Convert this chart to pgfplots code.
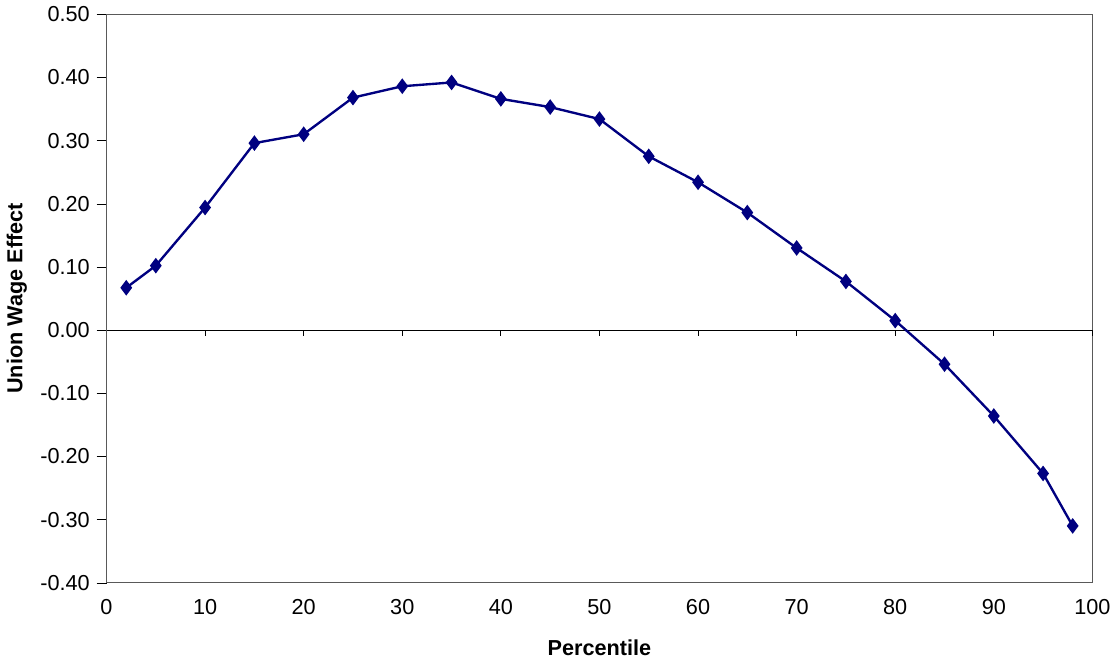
\documentclass[border=0pt]{standalone}
\usepackage{fontspec}
\setmainfont{Liberation Sans}
\usepackage{pgfplots}
\pgfplotsset{compat=1.18}
\definecolor{navy}{RGB}{0,0,128}
\begin{document}
\begin{tikzpicture}
\begin{axis}[
  scale only axis, width=17.6cm, height=10.15cm,
  xmin=0, xmax=100, ymin=-0.4, ymax=0.5,
  xtick={0,10,...,100}, ytick={-0.4,-0.3,...,0.5},
  yticklabel style={/pgf/number format/.cd,fixed,fixed zerofill,precision=2},
  /pgf/number format/assume math mode=true,
  tick label style={font=\fontsize{11}{13}\selectfont},
  xtick style={draw=none},
  ytick pos=left, tick align=outside, major tick length=5pt,
  xlabel={\textbf{Percentile}}, ylabel={\textbf{Union Wage Effect}},
  label style={font=\fontsize{11}{13}\selectfont},
  xlabel style={yshift=-6pt},
  axis line style={gray!70!black}, tick style={black},
  clip=false,
]
\draw (axis cs:0,0) -- (axis cs:100,0);
\pgfplotsinvokeforeach{10,20,...,100}{ \draw (axis cs:#1,0) -- (axis cs:#1,-0.009); }
\addplot[navy, line width=1.2pt, mark=diamond*, mark size=3pt] coordinates {
(2,0.067)(5,0.102)(10,0.194)(15,0.296)(20,0.310)(25,0.368)(30,0.386)(35,0.392)
(40,0.366)(45,0.353)(50,0.334)(55,0.275)(60,0.234)(65,0.186)(70,0.130)(75,0.077)
(80,0.015)(85,-0.054)(90,-0.136)(95,-0.227)(98,-0.310)};
\end{axis}
\end{tikzpicture}
\end{document}
